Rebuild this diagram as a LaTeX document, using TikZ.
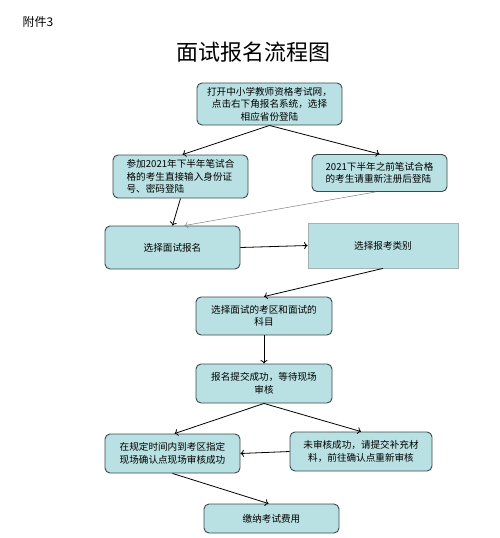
\documentclass[tikz,border=0pt]{standalone}
\usepackage{fontspec}
\usetikzlibrary{arrows.meta}
\newfontfamily\cjk{Noto Sans CJK SC}
\definecolor{boxfill}{HTML}{B9E0E2}
\definecolor{boxline}{HTML}{3A4A4C}
\definecolor{flatline}{HTML}{A3B3B4}
\begin{document}
\begin{tikzpicture}[x=1pt, y=-1pt, font=\cjk\fontsize{9.6}{12.5}\selectfont,
  box/.style = {draw=boxline, line width=0.9pt, fill=boxfill, rounded corners=5pt, inner sep=2pt},
  flat/.style = {draw=flatline, line width=0.8pt, fill=boxfill, inner sep=2pt},
  link/.style = {-{To[length=3.5pt, width=7pt]}, line width=0.8pt, black},
  thin/.style = {-{To[length=3.5pt, width=7pt]}, line width=0.5pt, gray}]
\useasboundingbox (0,0) rectangle (500,538);
\node[anchor=west, font=\cjk\fontsize{12}{14}\selectfont] (tag) at (19,22) {附件3};
\node[font=\cjk\fontsize{22}{26}\selectfont] (title) at (253,52) {面试报名流程图};
\node[box, minimum width=145pt, minimum height=42pt, align=center] (open) at (269.5,104)
  {打开中小学教师资格考试网，\\点击右下角报名系统，选择\\相应省份登陆};
\node[box, minimum width=135pt, minimum height=43pt, align=left] (joined) at (180.5,176.5)
  {参加2021年下半年笔试合\\格的考生直接输入身份证\\号、密码登陆};
\node[box, minimum width=135pt, minimum height=37pt, align=left] (earlier) at (379.5,173)
  {2021下半年之前笔试合格\\的考生请重新注册后登陆};
\node[box, minimum width=135pt, minimum height=43pt] (apply) at (172.5,247.5) {选择面试报名};
\node[flat, minimum width=150pt, minimum height=45pt] (category) at (383,245.5) {选择报考类别};
\node[box, minimum width=136pt, minimum height=38pt, align=center] (areas) at (264,316)
  {选择面试的考区和面试的\\科目};
\node[box, minimum width=136pt, minimum height=39pt, align=center] (submitted) at (264,383.5)
  {报名提交成功，等待现场\\审核};
\node[box, minimum width=135pt, minimum height=39pt, align=center] (confirmed) at (172.5,453.5)
  {在规定时间内到考区指定\\现场确认点现场审核成功};
\node[box, minimum width=142pt, minimum height=39pt, align=center] (missing) at (361,451.5)
  {未审核成功，请提交补充材\\料，前往确认点重新审核};
\node[box, minimum width=135pt, minimum height=29pt] (payfee) at (271.5,518.5) {缴纳考试费用};
\draw[link] (open.south) -- ([xshift=2pt]joined.north);
\draw[link] (open.south) -- (earlier.north);
\draw[link] (joined.south) -- (apply.north);
\draw[thin] ([xshift=-4pt]earlier.south) -- ([xshift=12pt]apply.north);
\draw[link] (apply.east) -- (category.west);
\draw[link] (category.south) -- (areas.north);
\draw[link] (areas.south) -- (submitted.north);
\draw[link] (submitted.south) -- ([xshift=2pt]confirmed.north);
\draw[link] (submitted.south) -- (missing.north);
\draw[link] (missing.west) -- (confirmed.east);
\draw[link] (confirmed.south) -- ([xshift=-3pt]payfee.north);
\end{tikzpicture}
\end{document}
